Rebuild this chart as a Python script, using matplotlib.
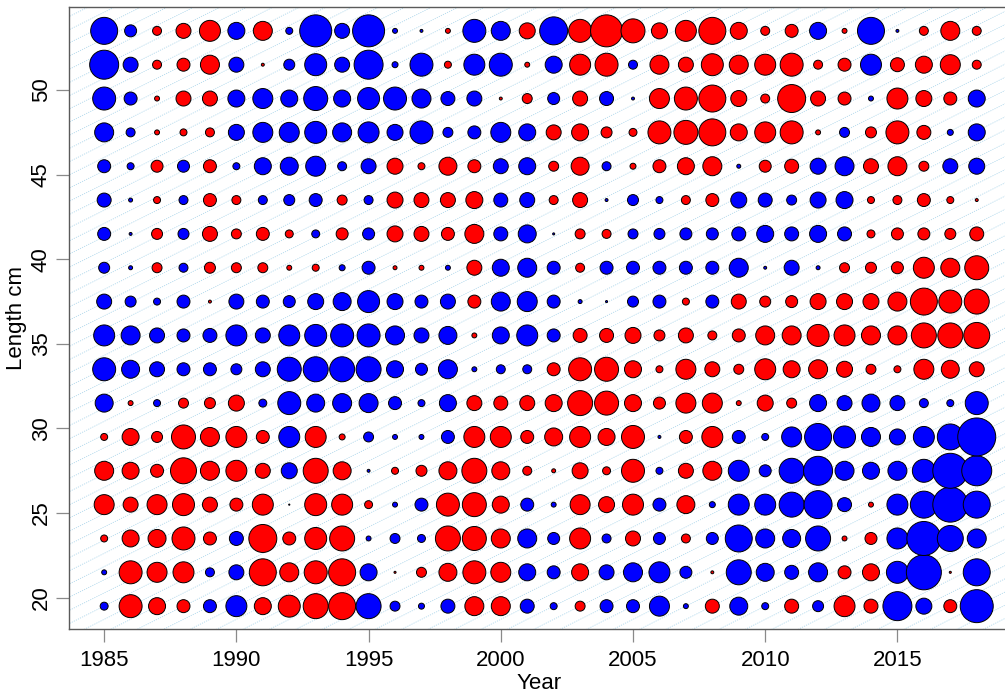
import numpy as np
import matplotlib
matplotlib.use("Agg")
import matplotlib.pyplot as plt

plt.rcParams['font.family'] = ['Liberation Sans', 'DejaVu Sans']

# length-composition residuals, one row per length bin, columns = years
years = list(range(1985, 2019))
lengths = [19.5, 21.5, 23.5, 25.5, 27.5, 29.5, 31.5, 33.5, 35.5,
           37.5, 39.5, 41.5, 43.5, 45.5, 47.5, 49.5, 51.5, 53.5]

res_19_5 = [-0.44, 3.67, 2.01, 1.17, -1.17, -3.06, 2.01, 3.36, 4.34, 5.06, -4.34, -0.69, -0.25, -1.36, 2.51, 2.51, -1.36,
            -0.34, 0.69, -1.17, -1.17, -2.78, -0.17, 1.36, -2.25, -0.34, 1.36, -0.84, 3.06, 1.36, -5.84, -1.78, 1.17, -7.56]
res_21_5 = [-0.17, 3.67, 2.78, 3.06, -0.56, -1.56, 5.06, 2.51, 3.67, 5.06, -2.01, 0.03, 0.69, 2.25, 3.67, 2.78, -2.01,
            -1.17, 2.01, -1.56, -2.51, -3.06, -1.00, 0.06, -4.34, -2.25, -1.36, -2.51, 1.17, 2.01, -3.36, -8.51, 0.03, -5.06]
res_23_5 = [0.34, 2.01, 2.25, 3.67, 1.17, -1.36, 5.44, 1.17, 3.36, 4.34, -0.17, -0.69, -0.44, 4.34, 4.00, 2.51, -2.51,
            -1.00, 3.06, -0.56, 1.56, -1.00, 0.56, -1.00, -5.06, -2.51, -2.25, -4.34, 0.17, 1.00, -3.06, -8.03, -4.69, -2.51]
res_25_5 = [2.78, 1.56, 2.78, 3.36, 1.56, 1.17, 3.06, -0.01, 3.36, 3.06, 0.44, -0.17, -1.17, 3.67, 4.00, 2.01, -1.17,
            -0.17, 2.78, 1.78, 3.06, -1.17, 2.25, -0.25, -3.06, -3.06, -4.34, -5.44, -1.36, 0.17, -3.06, -5.06, -8.51, -5.06]
res_27_5 = [2.51, 2.01, 1.17, 4.69, 2.51, 3.06, 1.56, -1.78, 4.34, 2.25, -0.06, 0.34, 0.84, 2.25, 4.34, 2.25, 0.56,
            0.11, 1.78, 0.44, 3.67, -0.34, 1.56, 2.51, -3.06, -1.00, -4.34, -5.84, -2.51, -2.01, -2.51, -3.67, -8.51, -6.25]
res_29_5 = [0.34, 2.01, 0.84, 4.00, 2.51, 3.06, 1.17, -3.06, 3.06, 0.25, -0.69, -0.17, -0.17, -1.17, 3.06, 3.06, 1.17,
            2.25, 3.06, 2.01, 3.67, -0.06, 1.17, 3.06, -1.17, -0.34, -2.78, -5.06, -3.36, -2.51, -1.78, -3.06, -4.69, -10.03]
res_31_5 = [-2.25, 0.17, -0.34, 0.69, 0.84, 1.78, -0.44, -3.67, -2.25, -2.51, -2.51, -1.17, -0.34, -2.01, 1.56, 1.36, 1.56,
            2.01, 4.34, 4.00, 2.01, 1.00, 2.78, 2.78, 0.17, 1.78, 0.69, -2.01, -1.56, -2.25, -1.56, -0.56, -0.34, -3.67]
res_33_5 = [-3.67, -2.25, -1.56, -1.17, -1.17, -0.84, -1.56, -4.00, -4.34, -4.34, -4.34, -2.01, -1.00, -2.51, -0.17, -0.56, -0.56,
            1.17, 3.67, 4.00, 2.01, 0.34, 2.78, 1.56, 0.69, 3.06, 2.01, 2.51, 1.78, 0.69, 0.34, 2.78, 2.25, 1.56]
res_35_5 = [-3.06, -2.51, -1.56, -1.17, -1.36, -3.06, -1.56, -3.06, -3.36, -3.67, -3.67, -2.51, -1.56, -2.25, 0.17, -2.01, -3.06,
            -1.17, 1.36, 1.36, 1.78, 0.84, 1.56, 0.56, 1.17, 2.51, 2.51, 3.36, 3.06, 2.51, 2.51, 4.34, 4.34, 4.69]
res_37_5 = [-1.56, -0.84, -0.34, -1.17, 0.06, -1.56, -1.17, -1.00, -1.78, -2.25, -3.36, -1.78, -1.17, -1.56, 1.17, -2.51, -2.78,
            -1.17, -0.11, -0.03, -0.84, -1.17, 0.34, -1.17, 1.56, 0.84, 1.00, 1.78, 1.78, 1.78, 2.51, 5.06, 3.67, 4.34]
res_39_5 = [-0.84, -0.11, 0.69, -0.56, 0.84, 0.69, 0.69, 0.17, 0.34, -0.25, -1.17, 0.11, 0.17, -0.17, 1.56, -2.01, -2.51,
            -1.17, 0.56, -1.17, -1.17, -1.17, -1.17, -1.17, -2.51, -0.06, -1.56, -0.11, 0.69, 0.84, 1.00, 3.06, 2.51, 4.00]
res_41_5 = [-1.17, -0.06, 0.84, -0.84, 1.56, 0.69, 1.17, 0.44, -0.44, 1.00, -1.00, 1.78, 1.56, 1.17, 2.51, -1.36, -2.25,
            -0.03, 0.69, 0.56, -0.69, -0.84, -1.00, -1.00, -1.36, -2.01, -1.36, -2.01, -1.36, 0.44, 1.00, 1.00, 0.84, 1.36]
res_43_5 = [-1.36, -0.11, 0.34, -0.56, 1.17, 0.56, -0.56, -0.84, -1.17, 0.69, -0.56, 1.78, 1.56, 1.56, 2.01, -1.36, -1.56,
            0.56, 1.56, -0.06, -0.84, -0.34, 0.56, 1.17, -1.78, -1.36, -0.69, -1.78, -2.01, 0.34, 0.56, 1.17, 0.34, 0.06]
res_45_5 = [-1.17, -0.34, 1.00, -1.00, 1.17, -0.34, -2.01, -2.25, -2.78, -0.56, -1.56, 1.78, 0.34, 2.25, 1.17, -1.56, -2.01,
            0.69, 2.25, -0.56, 0.25, 1.17, 2.01, 2.51, -0.11, 1.00, 1.36, -1.78, -2.51, 1.56, 2.51, 0.69, -1.56, -1.78]
res_47_5 = [-2.51, -0.56, 0.17, 0.34, 0.56, -1.78, -2.78, -2.78, -3.36, -2.51, -3.06, -1.78, -3.67, -0.69, -1.17, -2.78, -2.01,
            1.56, 2.01, 0.84, 0.44, 3.67, 4.00, 5.06, 2.01, 3.06, 3.67, 0.17, -0.69, 0.84, 3.67, 1.36, -0.25, -2.01]
res_49_5 = [-3.67, -1.17, 0.17, 1.56, 1.56, -2.01, -2.78, -2.01, -4.00, -2.01, -3.36, -3.67, -2.51, -1.36, -1.56, 0.06, 0.69,
            -1.00, 1.56, -1.36, -0.06, 2.78, 3.67, 5.06, 1.78, 0.56, 5.44, 1.56, 1.17, -0.17, 3.06, 1.78, 1.17, -2.01]
res_51_5 = [-5.84, -1.56, 0.56, 1.17, 2.51, -1.56, 0.06, -0.84, -3.36, -1.56, -5.84, -0.25, -3.67, 0.34, -3.06, -3.67, 0.17,
            -2.01, 3.06, 3.67, -0.56, 2.51, 1.56, 3.36, 2.51, 3.06, 3.67, 0.56, 1.17, -3.06, 1.36, 2.01, 2.78, 0.56]
res_53_5 = [-5.06, -1.00, 0.56, 1.56, 3.06, -2.01, 2.51, -0.34, -7.11, -1.56, -7.11, -0.17, -0.06, 0.17, -3.67, -2.51, 1.78,
            -5.44, 3.67, 7.11, 4.00, 1.78, 3.06, 5.06, 2.01, 0.56, 1.17, -2.01, 0.17, -5.06, -0.06, 0.56, 2.51, 0.56]

resid = np.array([res_19_5, res_21_5, res_23_5, res_25_5, res_27_5, res_29_5, res_31_5, res_33_5, res_35_5,
                  res_37_5, res_39_5, res_41_5, res_43_5, res_45_5, res_47_5, res_49_5, res_51_5, res_53_5])

# year-major drawing order
X, Y = np.meshgrid(years, lengths)
x = X.T.ravel()
y = Y.T.ravel()
r = resid.T.ravel()

fig = plt.figure(figsize=(10.05, 6.96), dpi=100)
ax = fig.add_axes([69 / 1005, 67 / 696, 940 / 1005, 622 / 696])

# faint diagonal cohort lines in the background (one per cohort year)
growth = 0.78
xx = np.array([1983.0, 2020.0])
for cohort in range(1900, 2030):
    ax.plot(xx, growth * (xx - cohort), color='#a8d4ea', lw=0.55, ls=(0, (1.5, 1.5)), zorder=1)

cols = np.where(r > 0, '#ff0000', '#0000ff')
ax.scatter(x, y, s=74.6 * np.abs(r), c=cols, edgecolors='black', linewidths=0.7, zorder=3)

ax.set_xlim(1983.67, 2019.22)
ax.set_ylim(18.15, 54.91)
ax.set_xticks([1985, 1990, 1995, 2000, 2005, 2010, 2015])
ax.set_yticks([20, 25, 30, 35, 40, 45, 50])

for side in ['left', 'bottom', 'top']:
    ax.spines[side].set_color('#5a5a5a')
    ax.spines[side].set_linewidth(1.0)
ax.spines['right'].set_visible(False)

ax.tick_params(axis='both', direction='out', length=9.4, width=0.9, color='#8a8a8a', labelsize=16)
ax.tick_params(axis='x', pad=5.5)
ax.tick_params(axis='y', pad=3)
for lab in ax.get_yticklabels():
    lab.set_rotation(90)
    lab.set_va('center')

ax.set_xlabel('Year', fontsize=16, labelpad=2)
ax.set_ylabel('Length cm', fontsize=16, labelpad=3)

fig.savefig('out.png', dpi=100)
